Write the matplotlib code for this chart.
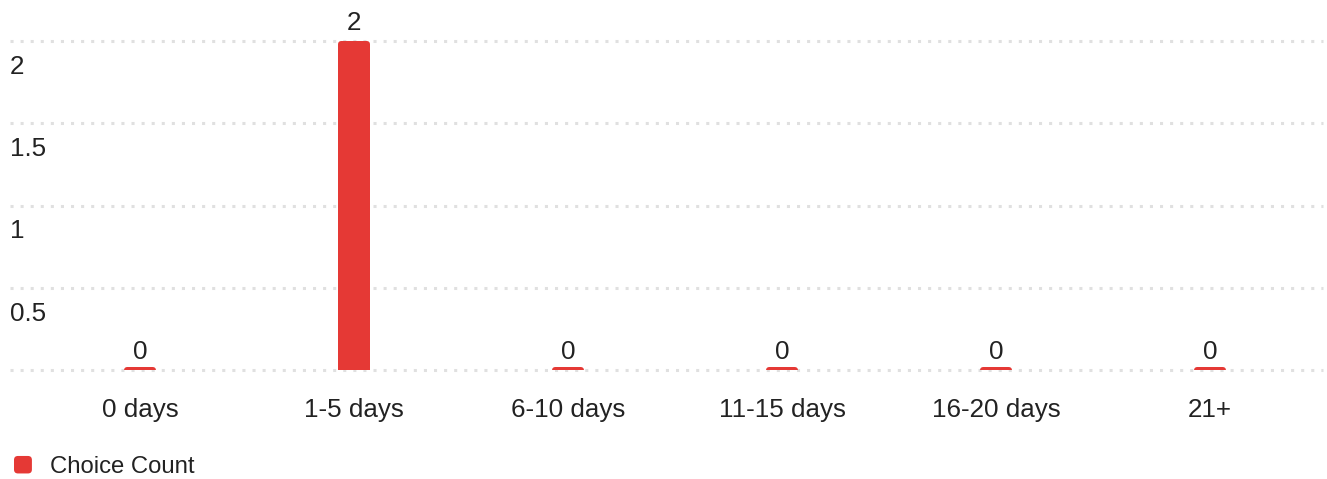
import matplotlib
matplotlib.use("Agg")
import matplotlib.pyplot as plt
from matplotlib.patches import FancyBboxPatch, Patch
from matplotlib.legend_handler import HandlerPatch
from matplotlib.transforms import blended_transform_factory

categories = ["0 days", "1-5 days", "6-10 days", "11-15 days", "16-20 days", "21+"]
counts = [0, 2, 0, 0, 0, 0]
y_ticks = [0.5, 1, 1.5, 2]
y_tick_labels = ["0.5", "1", "1.5", "2"]
series_name = "Choice Count"

RED = "#E53935"
TEXT = "#222222"
GRID = "#E0E0E0"

plt.rcParams['font.family'] = ['Liberation Sans', 'DejaVu Sans']

W, H = 1327, 479
fig = plt.figure(figsize=(W / 100, H / 100), dpi=100)

left_px, right_px = 10, 1323
bottom_px, top_px = 370, 30
ax = fig.add_axes([left_px / W, 1 - bottom_px / H, (right_px - left_px) / W, (bottom_px - top_px) / H])

xu = 214.0
x0 = 140.0
yu = (370 - 41) / 2.0
ax.set_xlim((left_px - x0) / xu, (right_px - x0) / xu)
ax.set_ylim(0, (bottom_px - top_px) / yu)

for s in ax.spines.values():
    s.set_visible(False)

for v in [0] + y_ticks:
    ax.axhline(v, color=GRID, lw=2.2, linestyle=(0, (1, 2.3)), zorder=0, clip_on=False)

xs = list(range(len(categories)))
bar_w = 32 / xu
min_h = 3 / yu
bars = ax.bar(xs, [max(c, min_h) for c in counts], width=bar_w, color=RED, zorder=2)
r_px = 3.5
for b in bars:
    b.set_visible(False)
    x, w, h = b.get_x(), b.get_width(), b.get_height()
    p = FancyBboxPatch((x, -0.1), w, h + 0.1,
                       boxstyle=f"round,pad=0,rounding_size={r_px / xu}",
                       mutation_aspect=xu / yu, fc=RED, ec="none", zorder=2)
    ax.add_patch(p)

for x, c in zip(xs, counts):
    ax.annotate(str(c), xy=(x, c), xytext=(0, 7.8), textcoords="offset points",
                ha="center", va="baseline", fontsize=18.7, color=TEXT, annotation_clip=False)

ax.set_xticks(xs)
ax.set_xticklabels(categories, fontsize=18.7, color=TEXT)
ax.tick_params(axis="x", length=0, pad=20)
ax.set_yticks([])

trans = blended_transform_factory(ax.transAxes, ax.transData)
for v, lab in zip(y_ticks, y_tick_labels):
    ax.annotate(lab, xy=(0, v), xycoords=trans, xytext=(0, -18.6), textcoords="offset points",
                ha="left", va="center", fontsize=18.7, color=TEXT)


class RoundHandler(HandlerPatch):
    def create_artists(self, legend, orig_handle, xdescent, ydescent, width, height, fontsize, trans):
        p = FancyBboxPatch((-xdescent, -ydescent), width, height,
                           boxstyle=f"round,pad=0,rounding_size={width * 0.22}",
                           fc=orig_handle.get_facecolor(), ec="none", transform=trans)
        return [p]


handle = Patch(facecolor=RED, edgecolor="none", label=series_name)
leg = fig.legend(handles=[handle], loc="center left", bbox_to_anchor=(14 / W, 1 - 467 / H),
                 frameon=False, fontsize=17.2, handlelength=0.75, handleheight=0.75,
                 handletextpad=0.75, borderpad=0, borderaxespad=0,
                 handler_map={Patch: RoundHandler()})
for t in leg.get_texts():
    t.set_color(TEXT)

fig.savefig("out.png", dpi=100)
